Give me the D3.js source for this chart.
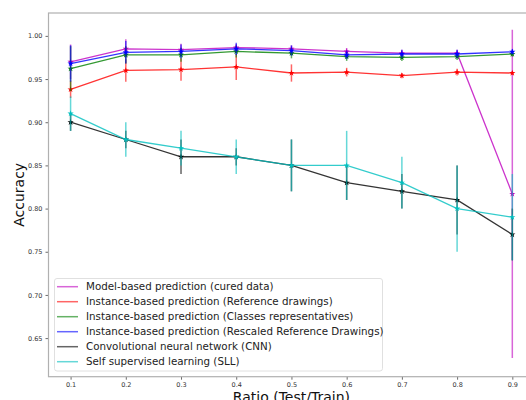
<!DOCTYPE html>
<html><head><meta charset="utf-8">
<script src="https://cdn.jsdelivr.net/npm/d3@7"></script>
<style>body{margin:0;background:#fff}svg{display:block}</style>
</head><body>
<svg id="c" width="526" height="400"></svg>
<script>
const ratios = [0.1,0.2,0.3,0.4,0.5,0.6,0.7,0.8,0.9];
const seriesNames = [
  "Model-based prediction (cured data)",
  "Instance-based prediction (Reference drawings)",
  "Instance-based prediction (Classes representatives)",
  "Instance-based prediction (Rescaled Reference Drawings)",
  "Convolutional neural network (CNN)",
  "Self supervised learning (SLL)"
];
const seriesColors = ["#bf00bf","#ff0000","#008000","#0000ff","#000000","#00bfbf"];
const modelVals   = [0.970,0.985,0.984,0.9865,0.985,0.982,0.980,0.980,0.817];
const modelErr    = [0.020,0.011,0.007,0.004,0.004,0.004,0.004,0.004,0.190];
const refVals     = [0.938,0.960,0.961,0.964,0.957,0.958,0.954,0.958,0.957];
const refErr      = [0.010,0.013,0.013,0.015,0.010,0.005,0.003,0.004,0.002];
const classVals   = [0.962,0.978,0.978,0.982,0.980,0.976,0.975,0.976,0.979];
const classErr    = [0.026,0.010,0.008,0.007,0.006,0.005,0.004,0.004,0.003];
const rescVals    = [0.968,0.981,0.982,0.985,0.983,0.978,0.979,0.979,0.9815];
const rescErr     = [0.021,0.013,0.008,0.007,0.006,0.005,0.005,0.005,0.003];
const cnnVals     = [0.900,0.880,0.860,0.860,0.850,0.830,0.820,0.810,0.770];
const cnnErr      = [0.010,0.010,0.020,0.010,0.030,0.020,0.020,0.040,0.030];
const sllVals     = [0.910,0.880,0.870,0.860,0.850,0.850,0.830,0.800,0.790];
const sllErr      = [0.020,0.020,0.020,0.020,0.030,0.040,0.030,0.050,0.050];
const xTicks = [0.1,0.2,0.3,0.4,0.5,0.6,0.7,0.8,0.9];
const yTicks = [0.65,0.70,0.75,0.80,0.85,0.90,0.95,1.00];
const xLabel = "Ratio (Test/Train)";
const yLabel = "Accuracy";

const vals = [modelVals,refVals,classVals,rescVals,cnnVals,sllVals];
const errs = [modelErr,refErr,classErr,rescErr,cnnErr,sllErr];

const L=48.5, T=13, R=534.4, B=376.7;
const x = d3.scaleLinear().domain([0.06,0.94]).range([L,R]);
const y = d3.scaleLinear().domain([0.6053,1.0265]).range([B,T]);
const svg = d3.select("#c");

const font = "DejaVu Sans, sans-serif";
const xa = svg.append("g").attr("transform",`translate(0,${B})`)
  .call(d3.axisBottom(x).tickValues(xTicks).tickSize(3).tickPadding(2.5).tickFormat(d3.format(".1f")));
const ya = svg.append("g").attr("transform",`translate(${L},0)`)
  .call(d3.axisLeft(y).tickValues(yTicks).tickSize(3).tickPadding(3).tickFormat(d3.format(".2f")));
[xa,ya].forEach(a=>{
  a.select(".domain").remove();
  a.selectAll(".tick line").attr("stroke","#444").attr("stroke-width",0.8);
  a.selectAll(".tick text").attr("fill","#333").style("font-family",font).style("font-size","6.5px");
});

const plot = svg.append("g");
const line = d3.line().x((d,i)=>x(ratios[i])).y(d=>y(d));
vals.forEach((v,s)=>{
  const g = plot.append("g");
  const col = seriesColors[s];
  g.selectAll("line.err").data(v).join("line")
    .attr("x1",(d,i)=>x(ratios[i])).attr("x2",(d,i)=>x(ratios[i]))
    .attr("y1",(d,i)=>y(d+errs[s][i])).attr("y2",(d,i)=>y(d-errs[s][i]))
    .attr("stroke",col).attr("stroke-width",1.5).attr("opacity",0.6);
  g.append("path").datum(v).attr("d",line).attr("fill","none")
    .attr("stroke",col).attr("stroke-width",1.3).attr("opacity",0.8);
  g.selectAll("path.m").data(v).join("path")
    .attr("transform",(d,i)=>`translate(${x(ratios[i])},${y(d)})`)
    .attr("d",d3.symbol(d3.symbolStar,12)).attr("fill",col);
});

svg.append("rect").attr("x",L).attr("y",T).attr("width",R-L).attr("height",B-T)
  .attr("fill","none").attr("stroke","#b0b0b0").attr("stroke-width",1.2);

svg.append("text").attr("x",(L+R)/2).attr("y",401.5).attr("text-anchor","middle")
  .style("font-family",font).style("font-size","14px").attr("fill","#111").text(xLabel);
svg.append("text").attr("transform",`translate(24,${(T+B)/2}) rotate(-90)`).attr("text-anchor","middle")
  .style("font-family",font).style("font-size","14px").attr("fill","#111").text(yLabel);

const lg = svg.append("g");
lg.append("rect").attr("x",54.5).attr("y",278.5).attr("width",328).attr("height",92.5).attr("rx",2.5)
  .attr("fill","#fff").attr("fill-opacity",0.8).attr("stroke","#d8d8d8").attr("stroke-width",0.8);
seriesNames.forEach((n,i)=>{
  const yy = 286.7 + i*15;
  lg.append("line").attr("x1",57).attr("x2",78).attr("y1",yy).attr("y2",yy)
    .attr("stroke",seriesColors[i]).attr("stroke-width",1.5).attr("opacity",0.6);
  lg.append("text").attr("x",86).attr("y",yy+3.7).style("font-family",font).style("font-size","10.3px")
    .attr("fill","#222").text(n);
});
</script>
</body></html>
